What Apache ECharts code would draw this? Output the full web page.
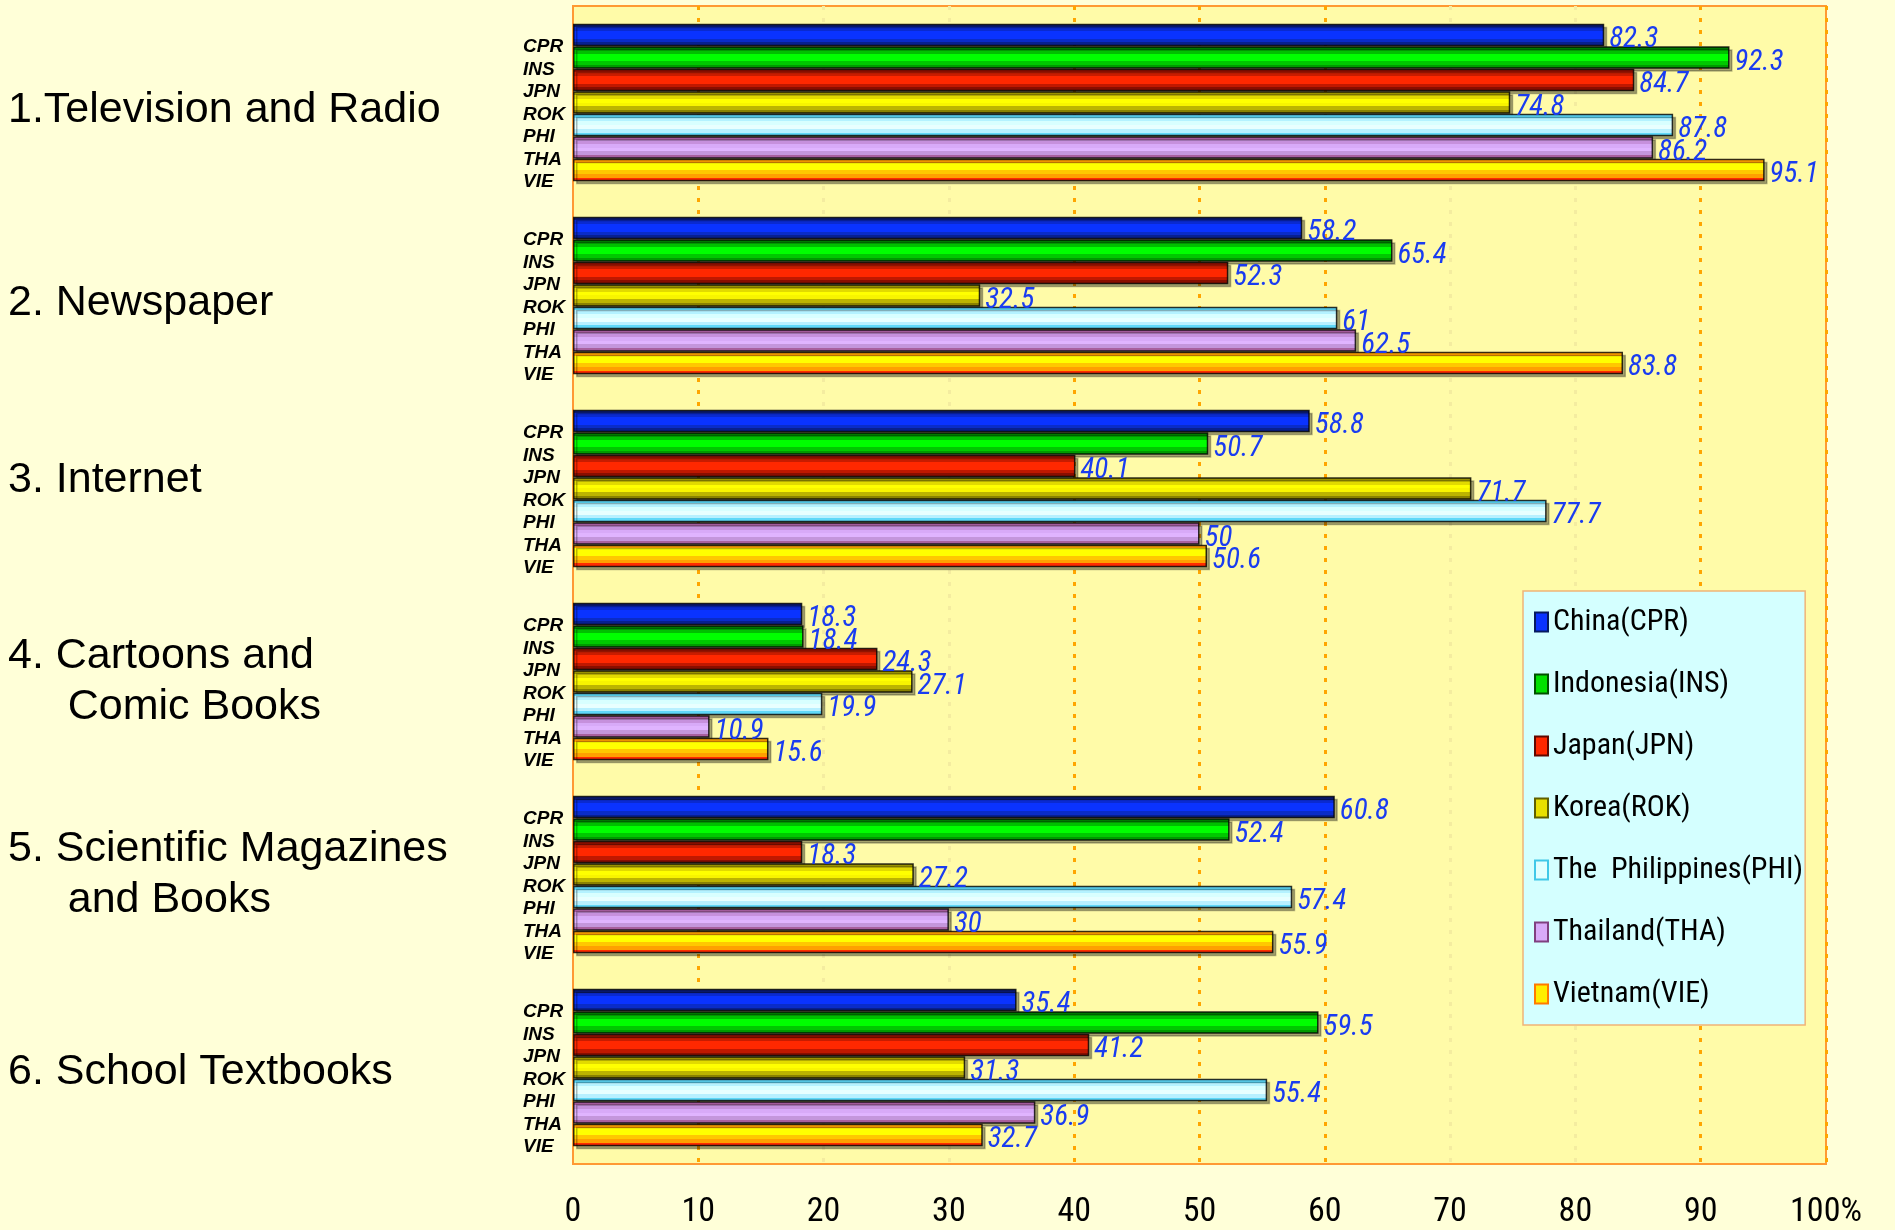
<!DOCTYPE html>
<html>
<head>
<meta charset="utf-8">
<script src="https://cdn.jsdelivr.net/npm/echarts@6/dist/echarts.min.js"></script>
<style>
  html, body { margin: 0; padding: 0; background: #ffffd8; }
  #chart { width: 1895px; height: 1230px; }
</style>
</head>
<body>
<div id="chart"></div>
<script>
// ---- data ----
const categories = [
  '1.Television and Radio',
  '2. Newspaper',
  '3. Internet',
  '4. Cartoons and\n     Comic Books',
  '5. Scientific Magazines\n     and Books',
  '6. School Textbooks'
];
const countries = ['China(CPR)', 'Indonesia(INS)', 'Japan(JPN)', 'Korea(ROK)', 'The  Philippines(PHI)', 'Thailand(THA)', 'Vietnam(VIE)'];
const codes = ['CPR', 'INS', 'JPN', 'ROK', 'PHI', 'THA', 'VIE'];
const valuesCPR = [82.3, 58.2, 58.8, 18.3, 60.8, 35.4];
const valuesINS = [92.3, 65.4, 50.7, 18.4, 52.4, 59.5];
const valuesJPN = [84.7, 52.3, 40.1, 24.3, 18.3, 41.2];
const valuesROK = [74.8, 32.5, 71.7, 27.1, 27.2, 31.3];
const valuesPHI = [87.8, 61, 77.7, 19.9, 57.4, 55.4];
const valuesTHA = [86.2, 62.5, 50, 10.9, 30, 36.9];
const valuesVIE = [95.1, 83.8, 50.6, 15.6, 55.9, 32.7];
const xTickLabels = ['0', '10', '20', '30', '40', '50', '60', '70', '80', '90', '100%'];

// ---- styles ----
const seriesValues = [valuesCPR, valuesINS, valuesJPN, valuesROK, valuesPHI, valuesTHA, valuesVIE];
const stripeColors = [
  ['#0a1a70', '#0a2ad0', '#0a33ff', '#0a33ff', '#0a2cc8', '#08208f'],
  ['#007800', '#00c000', '#00ff00', '#00ff00', '#00c800', '#009a00'],
  ['#901000', '#c81c00', '#ff2800', '#ff2800', '#c01800', '#8a0e00'],
  ['#9a9200', '#e2da00', '#ffff00', '#f8f400', '#bcb400', '#8a8200'],
  ['#5ad4f4', '#b4f2ff', '#d8ffff', '#e8ffff', '#b8f0ff', '#60d8f8'],
  ['#a25a9a', '#c690dc', '#d8aaf8', '#e0b4ff', '#c496dc', '#a8609e'],
  ['#ffa000', '#ffff00', '#ffff00', '#ffc800', '#ffa000', '#ff2c00']
];
const legendColors = ['#0a33ff', '#00e000', '#ff2800', '#e8e000', '#e0ffff', '#d8aaf8', '#ffee00'];
const legendBorders = ['#061a60', '#005000', '#600800', '#606000', '#40c8e8', '#804080', '#ff7a00'];
const categoryLabelPad = [[16, 0, 0, 0], [16, 0, 0, 0], [0, 0, 16, 0], [0, 0, 0, 0], [0, 0, 0, 0], [10, 0, 0, 0]];

function stripes(cols) {
  const n = cols.length, stops = [];
  cols.forEach((c, i) => {
    stops.push({ offset: i / n, color: c });
    stops.push({ offset: (i + 1) / n, color: c });
  });
  return new echarts.graphic.LinearGradient(0, 0, 0, 1, stops);
}

const narrow = "'Liberation Sans Narrow', 'Roboto Condensed', 'DejaVu Sans Condensed', 'Liberation Sans', sans-serif";
const sans = "'Liberation Sans', Arial, sans-serif";
const BAR_W = 22.5;

const catRich = {};
categoryLabelPad.forEach((p, i) => {
  catRich['p' + i] = { fontFamily: sans, fontSize: 43, lineHeight: 51, color: '#000', padding: p, align: 'left' };
});

const series = [];
codes.forEach((code, i) => {
  // zero-length helper bar carrying the country code label left of the axis
  series.push({
    name: 'code_' + code,
    type: 'bar',
    stack: 'st' + i,
    barWidth: BAR_W,
    barGap: 0,
    barCategoryGap: '18%',
    silent: true,
    data: categories.map(() => 0),
    itemStyle: { color: 'rgba(0,0,0,0)', borderWidth: 0 },
    label: {
      show: true,
      position: 'left',
      distance: 0,
      align: 'left',
      offset: [-50, 12],
      formatter: () => code,
      fontFamily: sans,
      fontStyle: 'italic',
      fontWeight: 'bold',
      fontSize: 19,
      color: '#000'
    }
  });
  series.push({
    name: countries[i],
    type: 'bar',
    stack: 'st' + i,
    barWidth: BAR_W,
    barGap: 0,
    barCategoryGap: '18%',
    data: seriesValues[i],
    itemStyle: {
      color: stripes(stripeColors[i]),
      borderColor: 'rgba(0,0,0,0.8)',
      borderWidth: 1.5,
      shadowColor: 'rgba(0,0,0,0.35)',
      shadowOffsetX: 3,
      shadowOffsetY: 3,
      shadowBlur: 0
    },
    label: {
      show: true,
      position: 'right',
      distance: 5,
      offset: [0, 5],
      fontFamily: narrow,
      fontStyle: 'italic',
      fontSize: 29,
      color: '#1a3cf0'
    }
  });
});

const chart = echarts.init(document.getElementById('chart'), null, { renderer: 'canvas' });
chart.setOption({
  backgroundColor: '#ffffd8',
  animation: false,
  grid: {
    left: 573, right: 69, top: 6, bottom: 66,
    show: true,
    backgroundColor: '#fffba8',
    borderColor: '#ff9933',
    borderWidth: 2,
    containLabel: false,
    outerBoundsMode: 'none'
  },
  legend: {
    orient: 'vertical',
    left: 1523,
    top: 591,
    padding: [16, 2, 16, 11],
    itemGap: 32,
    itemWidth: 13,
    itemHeight: 19,
    icon: 'rect',
    backgroundColor: '#d4ffff',
    borderColor: '#f0b478',
    borderWidth: 1.5,
    textStyle: { fontFamily: narrow, fontSize: 30, color: '#000' },
    data: countries.map((c, i) => ({
      name: c,
      itemStyle: { color: legendColors[i], borderColor: legendBorders[i], borderWidth: 2 }
    }))
  },
  xAxis: {
    type: 'value',
    min: 0,
    max: 100,
    interval: 10,
    axisLine: { show: false },
    axisTick: { show: false },
    axisLabel: {
      margin: 31,
      fontFamily: narrow,
      fontSize: 34,
      color: '#000',
      formatter: (v) => xTickLabels[Math.round(v / 10)]
    },
    splitLine: {
      show: true,
      lineStyle: {
        type: [4, 8],
        width: 3,
        color: ['rgba(0,0,0,0)', '#ffa500', '#f4eca0', '#f4eca0', '#ffa500', '#ffa500', '#ffa500', '#f4eca0', '#f4eca0', '#ffa500', '#ffa500']
      }
    }
  },
  yAxis: {
    type: 'category',
    inverse: true,
    data: categories,
    axisLine: { show: false },
    axisTick: { show: false },
    splitLine: { show: false },
    axisLabel: {
      align: 'left',
      margin: 565,
      fontFamily: sans,
      fontSize: 43,
      lineHeight: 51,
      color: '#000',
      formatter: (v, idx) => v.split('\n').map(l => '{p' + idx + '|' + l + '}').join('\n'),
      rich: catRich
    }
  },
  series: series
});
</script>
</body>
</html>
